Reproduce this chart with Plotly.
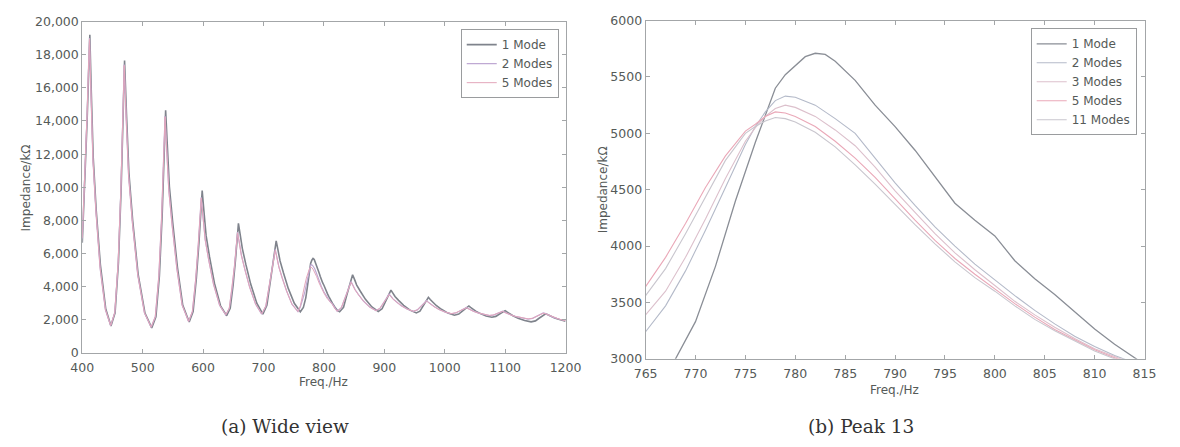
import plotly.graph_objects as go

# ---------------- (a) Wide view data ----------------
freq_1mode = [400, 404, 408, 410.5, 412.5, 415.0, 418.1, 423.0, 430.0, 438.8, 447.5,
              454.3, 459.9, 464.4, 467.8, 470,
              473.2, 477.2, 483.5, 492.5, 503.8, 515,
              521.9, 527.7, 532.3, 535.7, 538,
              540.7, 544.2, 549.7, 557.5, 566.3, 577,
              583.5, 588.8, 593.1, 596.4, 598.5,
              601.3, 605.0, 610.7, 618.8, 628.9, 639,
              644.9, 649.7, 653.6, 656.6, 658.5,
              661.3, 665.0, 670.7, 678.8, 688.9, 699,
              705.6, 711.1, 715.5, 718.8, 721,
              723.8, 727.4, 733.0, 741.0, 751.0, 761,
              766, 768, 770, 772, 774, 776, 778, 780, 782,
              784, 786, 788, 790, 792, 794, 796, 798, 800, 802, 804, 806, 808, 810, 812, 814, 818, 822, 826,
              832.5, 837.8, 842.1, 845.4, 847.5,
              850.5, 854.3, 860.3, 868.8, 879.4, 890,
              896.3, 901.6, 905.8, 908.9, 911,
              913.9, 917.7, 923.6, 932.0, 942.5, 953,
              959, 964, 968, 971, 973,
              976.0, 979.9, 985.9, 994.5, 1005.3, 1016,
              1023.2, 1029.2, 1034, 1037.6, 1040,
              1042.7, 1046.1, 1051.4, 1059, 1068.5, 1078,
              1084.6, 1090.1, 1094.5, 1097.8, 1100,
              1103, 1106.9, 1112.9, 1121.5, 1132.3, 1143,
              1150.2, 1156.2, 1161, 1164.6, 1167,
              1170, 1175, 1182, 1190, 1200]

imp_1mode = [6650, 10000, 14000, 16800, 19200, 15690, 11820, 8660, 5320, 2680, 1630,
             2430, 5470, 9960, 14450, 17650,
             14420, 10870, 7970, 4750, 2410, 1520,
             2180, 4670, 8350, 12020, 14650,
             12610, 10050, 7880, 5190, 2890, 1870,
             2500, 4490, 6630, 8530, 9800,
             8590, 7080, 5800, 4210, 2850, 2250,
             2700, 4090, 5600, 6940, 7830,
             7170, 6300, 5360, 4160, 3010, 2350,
             2880, 4340, 5440, 6230, 6760,
             6250, 5560, 4840, 3900, 3000, 2490,
             2750, 3000, 3330, 3820, 4400, 4920, 5400, 5600, 5710,
             5640, 5470, 5250, 5060, 4850, 4620, 4380, 4230, 4090, 3870, 3710, 3570, 3420, 3265, 3130, 3010, 2780, 2580, 2490,
             2760, 3490, 4050, 4450, 4720,
             4460, 4100, 3730, 3240, 2780, 2510,
             2670, 3090, 3410, 3650, 3800,
             3630, 3410, 3180, 2880, 2590, 2420,
             2530, 2840, 3080, 3250, 3360,
             3230, 3060, 2870, 2640, 2410, 2280,
             2350, 2530, 2670, 2770, 2840,
             2760, 2650, 2530, 2380, 2240, 2160,
             2210, 2340, 2440, 2510, 2560,
             2480, 2370, 2250, 2100, 1960, 1880,
             1940, 2100, 2220, 2300, 2360,
             2330, 2230, 2120, 2020, 1920]

freq_multi = [400, 404, 408, 410, 412, 414.5, 417.6, 422.5, 429.5, 438.3, 447,
              453.8, 459.4, 463.9, 467.3, 469.5,
              472.6, 476.6, 482.9, 491.8, 502.9, 514,
              520.9, 526.7, 531.3, 534.7, 537,
              539.7, 543.2, 548.7, 556.5, 565.3, 576,
              582.3, 587.6, 591.8, 594.9, 597,
              599.8, 603.5, 609.2, 617.3, 627.4, 637.5,
              643.4, 648.2, 652.1, 655.1, 657,
              659.8, 663.4, 669, 677, 687, 697,
              703.8, 709.4, 713.9, 717.3, 719.5,
              722.1, 725.5, 730.8, 738.3, 747.1, 757,
              761, 765, 768, 771, 774, 776, 778, 779,
              780, 782, 785, 788, 792, 796, 800, 805, 810, 814, 818, 822,
              828.9, 834.7, 839.1, 842.7, 845,
              847.9, 851.6, 857.3, 865.5, 875.8, 886,
              892.6, 897.9, 902.2, 905.4, 908,
              910.8, 914.4, 920, 928, 938, 948,
              954.6, 959.9, 964.2, 967.4, 970,
              972.9, 976.6, 982.3, 990.5, 1000.8, 1011,
              1018.5, 1024.8, 1029.8, 1033.5, 1036,
              1038.7, 1042.1, 1047.4, 1055, 1064.5, 1074,
              1080.6, 1086.1, 1090.5, 1093.8, 1096,
              1098.9, 1102.7, 1108.6, 1117, 1127.5, 1138,
              1145.5, 1151.8, 1156.8, 1160.5, 1163,
              1166, 1172, 1180, 1190, 1200]

imp_2modes = [6900, 10300, 14400, 16900, 19000, 15530, 11710, 8590, 5120, 2600, 1650,
              2440, 5430, 9840, 14250, 17400,
              14230, 10740, 7890, 4720, 2420, 1550,
              2190, 4610, 8180, 11750, 14300,
              12320, 9840, 7730, 5120, 2890, 1900,
              2500, 4380, 6400, 8200, 9400,
              8260, 6840, 5640, 4150, 2870, 2300,
              2700, 3950, 5300, 6500, 7300,
              6710, 5910, 5070, 3980, 2940, 2350,
              2820, 4110, 5080, 5780, 6250,
              5800, 5200, 4560, 3740, 2950, 2500,
              2780, 3240, 3620, 4140, 4720, 5060, 5290, 5330,
              5320, 5250, 5070, 4780, 4360, 4000, 3700, 3370, 3110, 2960, 2700, 2520,
              2740, 3330, 3780, 4100, 4320,
              4110, 3830, 3530, 3140, 2770, 2560,
              2680, 3010, 3260, 3440, 3560,
              3440, 3270, 3090, 2860, 2650, 2520,
              2600, 2810, 2980, 3090, 3170,
              3070, 2950, 2810, 2630, 2470, 2370,
              2420, 2540, 2640, 2700, 2750,
              2690, 2610, 2530, 2420, 2320, 2260,
              2290, 2380, 2450, 2500, 2530,
              2470, 2400, 2310, 2210, 2110, 2050,
              2090, 2220, 2310, 2380, 2420,
              2390, 2290, 2150, 2040, 1950]

imp_5modes = [6950, 10350, 14400, 16850, 18950, 15500, 11700, 8600, 5150, 2620, 1660,
              2450, 5450, 9850, 14200, 17350,
              14200, 10720, 7880, 4730, 2430, 1560,
              2200, 4620, 8170, 11700, 14250,
              12280, 9820, 7720, 5120, 2900, 1910,
              2510, 4400, 6420, 8180, 9350,
              8230, 6820, 5630, 4150, 2880, 2310,
              2710, 3960, 5290, 6460, 7250,
              6680, 5890, 5060, 3980, 2950, 2360,
              2830, 4120, 5070, 5740, 6200,
              5760, 5170, 4540, 3730, 2950, 2500,
              2850, 3640, 4050, 4520, 4950, 5080, 5190, 5180,
              5150, 5060, 4860, 4610, 4230, 3890, 3620, 3310, 3080, 2940, 2680, 2520,
              2740, 3310, 3750, 4060, 4270,
              4070, 3800, 3510, 3130, 2770, 2560,
              2690, 3000, 3240, 3410, 3520,
              3410, 3250, 3080, 2860, 2650, 2520,
              2600, 2800, 2960, 3070, 3140,
              3050, 2940, 2800, 2630, 2470, 2380,
              2430, 2540, 2630, 2690, 2730,
              2680, 2600, 2520, 2420, 2330, 2270,
              2300, 2380, 2440, 2480, 2510,
              2460, 2390, 2310, 2210, 2120, 2060,
              2100, 2220, 2300, 2360, 2400,
              2380, 2290, 2150, 2040, 1950]

# ---------------- (b) Peak 13 data ----------------
peak_freq_1mode = [765, 766, 768, 770, 772, 774, 776, 778, 779, 780, 781, 782, 783, 784, 786,
                   788, 790, 792, 794, 796, 798, 800, 802, 804, 806, 808, 810, 812, 814, 815]
peak_imp_1mode = [2600, 2750, 3000, 3330, 3820, 4400, 4920, 5400, 5520, 5600, 5680, 5710, 5700, 5640, 5470,
                  5250, 5060, 4850, 4620, 4380, 4230, 4090, 3870, 3710, 3570, 3420, 3265, 3130, 3010, 2950]

peak_freq_multi = [765, 767, 769, 771, 773, 775, 776, 777, 778, 779, 780, 782, 784, 786, 788,
                   790, 792, 794, 796, 798, 800, 802, 804, 806, 808, 810, 812, 814, 815]
peak_imp_2modes = [3240, 3470, 3780, 4140, 4520, 4900, 5060, 5190, 5290, 5330, 5320, 5250, 5130, 5000, 4780,
                   4560, 4360, 4170, 4000, 3840, 3700, 3560, 3430, 3310, 3200, 3110, 3030, 2960, 2930]
peak_imp_3modes = [3390, 3600, 3900, 4240, 4600, 4930, 5050, 5150, 5220, 5250, 5230, 5150, 5030, 4890, 4700,
                   4490, 4300, 4110, 3940, 3790, 3650, 3510, 3390, 3280, 3180, 3090, 3020, 2950, 2920]
peak_imp_5modes = [3640, 3900, 4200, 4520, 4800, 5020, 5080, 5150, 5190, 5180, 5150, 5060, 4930, 4780, 4610,
                   4420, 4230, 4050, 3890, 3750, 3620, 3490, 3370, 3260, 3170, 3080, 3010, 2940, 2910]
peak_imp_11modes = [3560, 3800, 4110, 4440, 4760, 5000, 5060, 5110, 5140, 5130, 5100, 5010, 4880, 4720, 4550,
                    4370, 4190, 4020, 3860, 3720, 3600, 3470, 3350, 3250, 3160, 3070, 3000, 2930, 2900]

wide_ticks_x = [400, 500, 600, 700, 800, 900, 1000, 1100, 1200]
wide_ticks_y = [0, 2000, 4000, 6000, 8000, 10000, 12000, 14000, 16000, 18000, 20000]
peak_ticks_x = [765, 770, 775, 780, 785, 790, 795, 800, 805, 810, 815]
peak_ticks_y = [3000, 3500, 4000, 4500, 5000, 5500, 6000]

TXT = "#555a58"
AX = "#a3a6a8"
FONT = "DejaVu Sans"

fig = go.Figure()

fig.add_trace(go.Scatter(x=freq_1mode, y=imp_1mode, mode="lines", name="1 Mode",
                         line=dict(color="#7f838c", width=1.6), xaxis="x", yaxis="y", legend="legend"))
fig.add_trace(go.Scatter(x=freq_multi, y=imp_2modes, mode="lines", name="2 Modes",
                         line=dict(color="#bfa9d3", width=1.2), xaxis="x", yaxis="y", legend="legend"))
fig.add_trace(go.Scatter(x=freq_multi, y=imp_5modes, mode="lines", name="5 Modes",
                         line=dict(color="#e3a6bb", width=1.0), xaxis="x", yaxis="y", legend="legend"))

fig.add_trace(go.Scatter(x=peak_freq_1mode, y=peak_imp_1mode, mode="lines", name="1 Mode",
                         line=dict(color="#8a8e96", width=1.3), xaxis="x2", yaxis="y2", legend="legend2"))
fig.add_trace(go.Scatter(x=peak_freq_multi, y=peak_imp_2modes, mode="lines", name="2 Modes",
                         line=dict(color="#b4bac9", width=1.1), xaxis="x2", yaxis="y2", legend="legend2"))
fig.add_trace(go.Scatter(x=peak_freq_multi, y=peak_imp_3modes, mode="lines", name="3 Modes",
                         line=dict(color="#dcc0cc", width=1.1), xaxis="x2", yaxis="y2", legend="legend2"))
fig.add_trace(go.Scatter(x=peak_freq_multi, y=peak_imp_5modes, mode="lines", name="5 Modes",
                         line=dict(color="#eaa8b8", width=1.1), xaxis="x2", yaxis="y2", legend="legend2"))
fig.add_trace(go.Scatter(x=peak_freq_multi, y=peak_imp_11modes, mode="lines", name="11 Modes",
                         line=dict(color="#c9c6ce", width=1.1), xaxis="x2", yaxis="y2", legend="legend2"))

axis_common = dict(showline=True, mirror="ticks", linecolor=AX, linewidth=1, ticks="inside",
                   ticklen=4, tickcolor=AX, showgrid=False, zeroline=False,
                   tickfont=dict(family=FONT, size=12.5, color=TXT))

fig.update_layout(
    width=1180, height=447,
    margin=dict(l=0, r=0, t=0, b=0),
    paper_bgcolor="white", plot_bgcolor="white",
    showlegend=True,
    xaxis=dict(domain=[0.0610, 0.4805], range=[400, 1200], tickvals=wide_ticks_x, anchor="y",
               ticklabelstandoff=3, **axis_common),
    yaxis=dict(domain=[0.2013, 0.9687], range=[0, 20000], tickvals=wide_ticks_y, tickformat=",d",
               anchor="x", **axis_common),
    xaxis2=dict(domain=[0.5500, 0.9831], range=[765, 815], tickvals=peak_ticks_x, anchor="y2",
                ticklabelstandoff=3, **axis_common),
    yaxis2=dict(domain=[0.1879, 0.9709], range=[3000, 6000], tickvals=peak_ticks_y, tickformat="d",
                anchor="x2", **axis_common),
    legend=dict(x=0.4746, y=0.951, xanchor="right", yanchor="top", bgcolor="white",
                bordercolor="#9a9c9e", borderwidth=1, itemwidth=30,
                font=dict(family=FONT, size=12, color=TXT), tracegroupgap=0),
    legend2=dict(x=0.9763, y=0.953, xanchor="right", yanchor="top", bgcolor="white",
                 bordercolor="#9a9c9e", borderwidth=1, itemwidth=30,
                 font=dict(family=FONT, size=12, color=TXT), tracegroupgap=0),
)

annots = [
    dict(text="Impedance/kΩ", x=14 / 1180, y=(447 - 186) / 447, textangle=-90),
    dict(text="Freq./Hz", x=319 / 1180, y=(447 - 387) / 447),
    dict(text="Impedance/kΩ", x=605 / 1180, y=(447 - 188) / 447, textangle=-90),
    dict(text="Freq./Hz", x=904 / 1180, y=(447 - 395) / 447),
]
for a in annots:
    fig.add_annotation(xref="paper", yref="paper", showarrow=False, xanchor="center", yanchor="middle",
                       font=dict(family=FONT, size=12, color=TXT), **a)

fig.add_annotation(text="(a) Wide view", x=280 / 1180, y=(447 - 433) / 447, xref="paper", yref="paper",
                   showarrow=False, xanchor="center", yanchor="middle",
                   font=dict(family="DejaVu Serif", size=18.5, color="#333333"))
fig.add_annotation(text="(b) Peak 13", x=870 / 1180, y=(447 - 433) / 447, xref="paper", yref="paper",
                   showarrow=False, xanchor="center", yanchor="middle",
                   font=dict(family="DejaVu Serif", size=18.5, color="#333333"))

fig.write_html("out.html")
